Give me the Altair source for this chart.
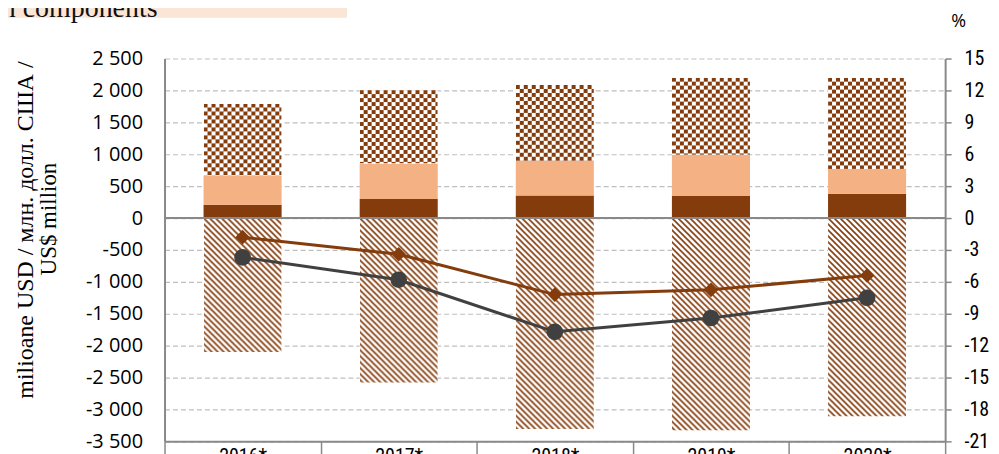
import base64
import altair as alt
import pandas as pd

# ---------------- data ----------------
years = ["2016*", "2017*", "2018*", "2019*", "2020*"]
comp_dark = [210, 300, 355, 345, 380]          # solid dark brown (bottom)
comp_peach = [455, 555, 540, 645, 390]         # solid peach
comp_check = [1130, 1150, 1190, 1210, 1430]    # checkered (top)
comp_hatch = [-2100, -2580, -3310, -3330, -3110]  # hatched (negative)
line_brown = [-1.8, -3.4, -7.2, -6.75, -5.4]   # % (diamonds)
line_gray = [-3.7, -5.8, -10.7, -9.4, -7.5]    # % (circles)

left_ticks = list(range(-3500, 2501, 500))
right_ticks = list(range(-21, 16, 3))
comp_names = ["dark", "peach", "check", "hatch"]

y_title_1 = "milioane USD / млн. долл. США /"
y_title_2 = "US$ million"
header_text = "main components"

# ---------------- tables ----------------
rows = []
for i, yr in enumerate(years):
    for k, arr in enumerate([comp_dark, comp_peach, comp_check, comp_hatch]):
        rows.append({"year": yr, "comp": comp_names[k], "order": k, "value": arr[i]})
bars_df = pd.DataFrame(rows)

brown_df = pd.DataFrame({"year": years, "pct": line_brown})
gray_df = pd.DataFrame({"year": years, "pct": line_gray})

zero_df = pd.DataFrame({"v": [0]})
one_df = pd.DataFrame({"a": [1]})

# ---------------- styles ----------------
BROWN = "#843C0C"
PEACH = "#F4B183"
DGRAY = "#404040"
AXIS = "#898989"
GRID = "#BFBFBF"
SANS = "Open Sans"
COND = "Liberation Sans Narrow, Roboto Condensed, DejaVu Sans Condensed, Liberation Sans"
SERIF = "Liberation Serif"


def svg_uri(svg):
    return "data:image/svg+xml;base64," + base64.b64encode(svg.encode("utf-8")).decode("ascii")


check_uri = svg_uri(
    "<svg xmlns='http://www.w3.org/2000/svg' width='100%' height='100%'>"
    "<defs><pattern id='p' width='8' height='8' patternUnits='userSpaceOnUse'>"
    "<rect width='8' height='8' fill='#ffffff'/>"
    f"<rect width='4' height='4' fill='{BROWN}'/>"
    f"<rect x='4' y='4' width='4' height='4' fill='{BROWN}'/>"
    "</pattern></defs><rect width='100%' height='100%' fill='url(#p)'/></svg>"
)
hatch_uri = svg_uri(
    "<svg xmlns='http://www.w3.org/2000/svg' width='100%' height='100%'>"
    "<defs><pattern id='h' width='6' height='6' patternUnits='userSpaceOnUse'>"
    "<rect width='6' height='6' fill='#ffffff'/>"
    f"<path d='M-1,-1 L7,7 M-1,5 L1,7 M5,-1 L7,1' stroke='{BROWN}' stroke-width='1.6'/>"
    "</pattern></defs><rect width='100%' height='100%' fill='url(#h)'/></svg>"
)

x_axis = alt.Axis(
    title=None, tickBand="extent", labelAngle=0,
    domainColor=AXIS, domainWidth=2, tickColor=AXIS, tickWidth=1.5, tickSize=16,
    labelPadding=-11, labelFont=COND, labelFontSize=20, labelColor="black",
)
xenc = alt.X("year:N", sort=years, scale=alt.Scale(paddingInner=0, paddingOuter=0), axis=x_axis)

left_axis = alt.Axis(
    values=left_ticks,
    labelExpr="(datum.value < 0 ? '-' : '') + replace(format(abs(datum.value), ','), ',', ' ')",
    ticks=False, domainColor=AXIS, domainWidth=2,
    grid=True, gridColor=GRID, gridDash=[5, 3], gridWidth=1.2,
    labelFont=SANS, labelFontSize=20, labelColor="black", labelPadding=22,
    title=None,
)
left_scale = alt.Scale(domain=[-3500, 2500], nice=False, zero=False)

right_axis = alt.Axis(
    orient="right", values=right_ticks,
    labelExpr="(datum.value < 0 ? '-' : '') + abs(datum.value)",
    ticks=True, tickSize=6, tickColor=AXIS, tickWidth=1.5,
    domainColor=AXIS, domainWidth=2, grid=False,
    labelFont=COND, labelFontSize=20, labelColor="black", labelPadding=13,
    title="%", titleAngle=0, titleX=13, titleY=-37, titleAlign="center",
    titleBaseline="middle", titleFont=SANS, titleFontSize=18,
    titleFontWeight="normal", titleColor="black",
)
right_scale = alt.Scale(domain=[-21, 15], nice=False, zero=False)

stacked = alt.Chart(bars_df).transform_stack(
    stack="value", groupby=["year"], as_=["v0", "v1"],
    sort=[alt.SortField("order", "ascending")],
)

bars = stacked.mark_bar(width=alt.RelativeBandSize(0.5)).encode(
    x=xenc,
    y=alt.Y("v0:Q", scale=left_scale, axis=left_axis),
    y2="v1:Q",
    color=alt.Color("comp:N", scale=alt.Scale(domain=comp_names,
                    range=[BROWN, PEACH, "#ffffff", "#ffffff"]), legend=None),
)

check_img = stacked.transform_filter(alt.datum.comp == "check").mark_image(
    aspect=False, width=alt.RelativeBandSize(0.5)
).encode(x=xenc, y=alt.Y("v0:Q", scale=left_scale, axis=left_axis), y2="v1:Q",
         url=alt.value(check_uri))

hatch_img = stacked.transform_filter(alt.datum.comp == "hatch").mark_image(
    aspect=False, width=alt.RelativeBandSize(0.5)
).encode(x=xenc, y=alt.Y("v0:Q", scale=left_scale, axis=left_axis), y2="v1:Q",
         url=alt.value(hatch_uri))

zero_rule = alt.Chart(zero_df).mark_rule(color=AXIS, strokeWidth=2).encode(
    y=alt.Y("v:Q", scale=left_scale, axis=left_axis)
)

left_group = alt.layer(bars, check_img, hatch_img, zero_rule)

yright = alt.Y("pct:Q", scale=right_scale, axis=right_axis)
gray_line = alt.Chart(gray_df).mark_line(strokeWidth=3, color=DGRAY).encode(x=xenc, y=yright)
gray_pts = alt.Chart(gray_df).mark_point(
    filled=True, size=280, opacity=1, shape="circle", color=DGRAY
).encode(x=xenc, y=yright)
brown_line = alt.Chart(brown_df).mark_line(strokeWidth=3, color=BROWN).encode(x=xenc, y=yright)
brown_pts = alt.Chart(brown_df).mark_point(
    filled=True, size=215, opacity=1, shape="diamond", color=BROWN
).encode(x=xenc, y=yright)
right_group = alt.layer(gray_line, gray_pts, brown_line, brown_pts)

header_box = alt.Chart(one_df).mark_rect(color="#FBE5D6").encode(
    x=alt.value(-165), x2=alt.value(183), y=alt.value(-58), y2=alt.value(-41)
)
header_txt = alt.Chart(one_df).mark_text(
    text=header_text, align="right", baseline="alphabetic", font=SERIF,
    fontSize=28, color="#111111"
).encode(x=alt.value(-7), y=alt.value(-42))

ytitle1 = alt.Chart(one_df).mark_text(
    text=y_title_1, angle=270, align="center", baseline="alphabetic",
    font=SERIF, fontSize=24, color="black"
).encode(x=alt.value(-132), y=alt.value(172))
ytitle2 = alt.Chart(one_df).mark_text(
    text=y_title_2, angle=270, align="center", baseline="alphabetic",
    font=SERIF, fontSize=23, color="black"
).encode(x=alt.value(-109), y=alt.value(161))

chart = alt.layer(
    header_box, header_txt, ytitle1, ytitle2, left_group, right_group
).resolve_scale(
    y="independent"
).properties(
    width=783, height=384,
    autosize=alt.AutoSizeParams(type="none"),
    padding={"left": 157, "top": 50, "right": 46, "bottom": 12},
).configure_view(stroke=None)

chart.save("out.html", embed_options={"renderer": "svg", "actions": False})
